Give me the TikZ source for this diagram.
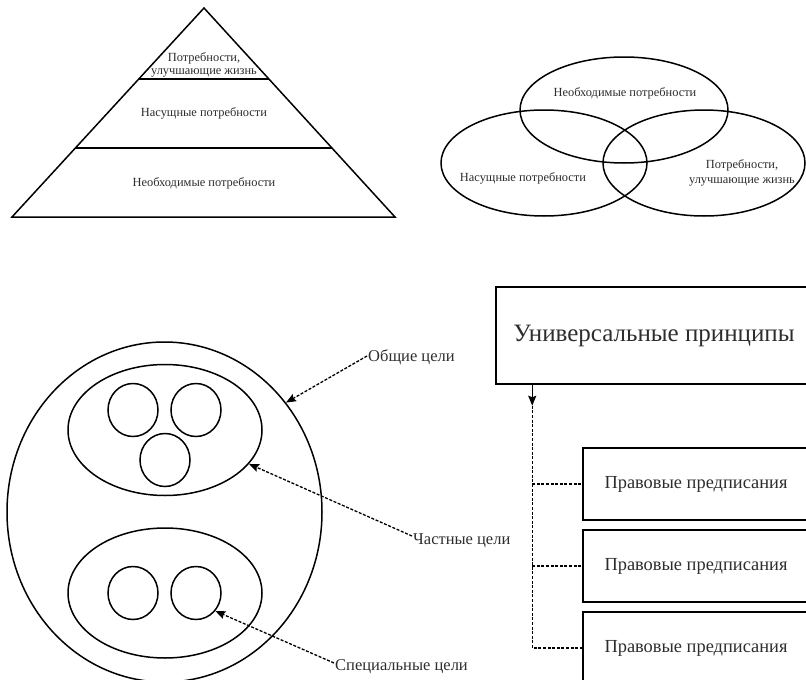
\documentclass[tikz,border=0pt]{standalone}
\usepackage{fontspec}
\setmainfont{Liberation Serif}
\usetikzlibrary{shapes.geometric,arrows.meta,calc}
\definecolor{txt}{RGB}{45,45,45}
\begin{document}
\begin{tikzpicture}[x=1pt,y=-1pt,
  shp/.style={draw=black,line width=1.5pt},
  ell/.style={shp,ellipse,inner sep=0pt},
  small/.style={text=txt,inner sep=1pt,font=\fontsize{12.4}{13}\selectfont},
  mid/.style={text=txt,inner sep=1pt,font=\fontsize{16.5}{18}\selectfont},
  boxtxt/.style={shp,text=txt,inner sep=0pt,font=\fontsize{18.4}{20}\selectfont},
  dline/.style={draw=black,line width=1.3pt,dash pattern=on 3pt off 1.6pt},
  darr/.style={dline,-{Stealth[length=10pt,width=8pt,inset=1.5pt]}}]
\useasboundingbox (0,0) rectangle (806,680);
\clip (0,0) rectangle (806,680);
% pyramid
\coordinate (pa) at (204,8);
\coordinate (pl) at (12,217);
\coordinate (pr) at (395,217);
\draw[shp,line join=miter] (pa) -- (pl) -- (pr) -- cycle;
\draw[shp] ($(pa)!0.34!(pl)$) -- ($(pa)!0.34!(pr)$);
\draw[shp] ($(pa)!0.67!(pl)$) -- ($(pa)!0.67!(pr)$);
\node[small,align=center] (p1) at (204,64.5) {Потребности,\\улучшающие жизнь};
\node[small] (p2) at (204,113) {Насущные потребности};
\node[small] (p3) at (204,183) {Необходимые потребности};
% venn
\node[ell,minimum width=208,minimum height=106] (v1) at (624,110) {};
\node[ell,minimum width=206,minimum height=106] (v2) at (544,163) {};
\node[ell,minimum width=202,minimum height=106] (v3) at (704,163) {};
\node[small] (vt1) at (625,93) {Необходимые потребности};
\node[small] (vt2) at (523,178) {Насущные потребности};
\node[small,align=center,font=\fontsize{12.4}{15}\selectfont] (vt3) at (742,173) {Потребности,\\улучшающие жизнь};
% goals
\node[ell,minimum width=315,minimum height=340] (big) at (164.5,512) {};
\node[ell,minimum width=194,minimum height=131] (up) at (165,430) {};
\node[ell,minimum width=194,minimum height=130] (low) at (165,593) {};
\node[ell,minimum width=50,minimum height=53] (c1) at (133,410) {};
\node[ell,minimum width=50,minimum height=53] (c2) at (196,410) {};
\node[ell,minimum width=50,minimum height=53] (c3) at (165,460) {};
\node[ell,minimum width=50,minimum height=53] (c4) at (133,593) {};
\node[ell,minimum width=50,minimum height=53] (c5) at (196,593) {};
\node[mid,anchor=west] (ob) at (367,357) {Общие цели};
\node[mid,anchor=west] (ch) at (412,541) {Частные цели};
\node[mid,anchor=west] (sp) at (334,667) {Специальные цели};
\draw[darr] ($(ob.west)+(0,-1)$) -- (big.42);
\draw[darr] ($(ch.west)+(0,-5)$) -- (up.-22.6);
\draw[darr] ($(sp.west)+(0,-4)$) -- (c5.-43.5);
% principles
\node[boxtxt,minimum width=316,minimum height=97,font=\fontsize{25}{28}\selectfont] (uni) at (654,335.5) {Универсальные принципы};
\node[boxtxt,minimum width=226,minimum height=72] (b1) at (696,484) {Правовые предписания};
\node[boxtxt,minimum width=226,minimum height=72] (b2) at (696,566) {Правовые предписания};
\node[boxtxt,minimum width=226,minimum height=72] (b3) at (696,648) {Правовые предписания};
\coordinate (tip) at ($(uni.south west)+(37,21)$);
\draw[shp,-{Stealth[length=10pt,width=8pt,inset=1.5pt]}] (uni.south west -| tip) -- (tip);
\draw[dline] (tip) |- (b3.west);
\draw[dline] (tip |- b1.west) -- (b1.west);
\draw[dline] (tip |- b2.west) -- (b2.west);
\end{tikzpicture}
\end{document}
